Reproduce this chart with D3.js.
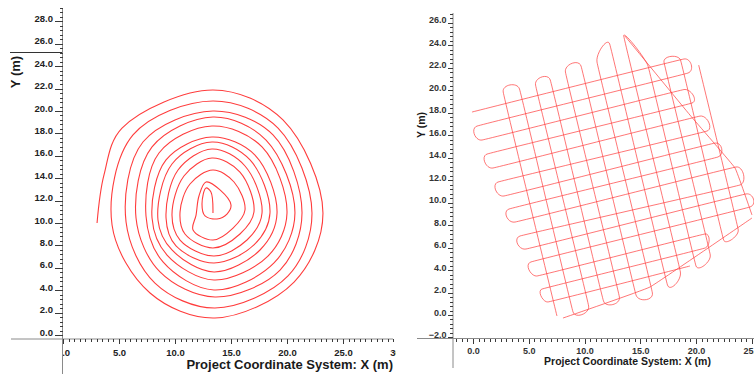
<!DOCTYPE html>
<html>
<head>
<meta charset="utf-8">
<script src="https://cdn.jsdelivr.net/npm/d3@7"></script>
<style>
  body { margin: 0; background: #fff; }
  svg { display: block; }
  text { font-family: "Liberation Sans", Arial, sans-serif; font-weight: bold; }
</style>
</head>
<body>
<svg id="chart" width="754" height="377"></svg>
<script>
// ---- left panel: spiral track (X, Y in metres) ----
const spiralTrack = [
  [3.04, 10.0], [3.66, 14.29], [5.27, 18.48], [13.39, 21.88], [19.64, 19.2], [23.21, 10.89], [20.63, 4.73], [13.57, 1.52], [7.77, 3.75],
  [4.38, 9.82], [6.25, 17.86], [13.39, 20.89], [19.2, 18.48], [22.23, 10.89], [20.09, 5.27], [13.57, 2.41], [8.21, 4.64],
  [5.63, 10.09], [7.14, 17.23], [13.39, 20.0], [18.75, 17.86], [21.34, 10.89], [19.38, 5.8], [13.57, 3.39], [8.66, 5.63],
  [6.52, 10.45], [7.95, 16.79], [13.39, 19.46], [18.13, 17.41], [20.71, 10.89], [18.84, 6.43], [13.48, 4.02], [8.93, 6.52],
  [7.41, 10.63], [8.57, 16.25], [13.3, 18.66], [17.77, 16.79], [20.0, 10.89], [18.3, 7.05], [13.48, 4.91], [9.29, 7.14],
  [7.95, 10.45], [9.2, 15.63], [13.3, 17.68], [17.14, 16.07], [19.11, 10.89], [17.59, 7.59], [13.48, 5.63], [9.73, 7.59],
  [8.48, 10.27], [9.73, 15.27], [13.3, 17.23], [16.7, 15.63], [18.48, 10.89], [17.05, 8.04], [13.48, 6.43], [10.09, 7.95],
  [9.2, 10.45], [10.27, 14.73], [13.3, 16.61], [16.25, 15.09], [17.77, 10.89], [16.43, 8.48], [13.48, 7.05], [10.45, 8.48],
  [9.73, 10.71], [10.8, 14.2], [13.3, 15.8], [15.8, 14.55], [17.05, 10.98], [15.8, 9.02], [13.39, 7.77], [10.89, 9.02],
  [10.45, 10.98], [11.34, 13.48], [13.39, 14.73], [15.27, 13.66], [16.25, 11.16], [15.18, 9.55], [13.39, 8.48], [11.61, 9.38],
  [11.88, 10.71], [12.14, 12.41], [12.77, 13.66], [14.02, 12.95], [15.0, 11.61], [14.64, 10.8], [13.75, 10.36], [12.68, 10.63],
  [12.41, 11.7], [12.77, 13.13], [13.21, 12.77], [13.39, 10.89]
];

// ---- right panel: lawn-mower grid track ----
// rows: [xLeft, yLeft, xRight, yRight]
const gridRows = [
  [-0.09, 18.06, 18.92, 22.78],
  [0.36, 16.81, 19.28, 21.53],
  [0.81, 15.57, 18.92, 20.06],
  [1.26, 14.32, 19.64, 18.86],
  [1.79, 13.08, 20.36, 17.7],
  [2.24, 11.83, 20.99, 16.37],
  [2.78, 10.59, 21.7, 15.3],
  [3.23, 9.43, 21.97, 14.06],
  [3.77, 8.27, 23.59, 13.17],
  [4.22, 7.03, 23.95, 11.57],
  [4.75, 5.87, 24.48, 10.77],
  [5.2, 4.72, 24.84, 9.61],
  [5.74, 3.47, 20.81, 7.21],
  [6.19, 2.31, 20.81, 5.96],
  [6.73, 1.16, 19.46, 4.36]
];
// columns: [xTop, yTop, xBottom, yBottom]
const gridCols = [
  [2.71, 19.84, 7.53, -0.09],
  [4.17, 20.11, 8.97, 0.27],
  [5.61, 20.46, 10.37, 0.8],
  [6.93, 20.91, 11.7, 1.25],
  [8.29, 21.62, 13.13, 1.6],
  [9.69, 22.15, 14.62, 1.78],
  [11.12, 22.51, 16.09, 1.96],
  [12.26, 24.11, 17.44, 2.67],
  [13.52, 24.82, 18.6, 3.83],
  [15.7, 22.15, 20.0, 4.36],
  [17.13, 22.51, 21.28, 5.34],
  [18.61, 22.69, 22.48, 6.67],
  [20.24, 22.24, 23.79, 7.56]
];
// odd legs of the track
const gridExtra = [
  [[13.63, 24.82], [19.46, 17.79], [23.5, 13.08], [25.02, 8.9]],
  [[8.07, -0.27], [15.87, 2.49], [25.02, 8.63]]
];

// tick labels
const leftXLabels = [0, 5, 10, 15, 20, 25, 30];
const leftYLabels = [0, 2, 4, 6, 8, 10, 12, 14, 16, 18, 20, 22, 24, 26, 28];
const rightXLabels = [0, 5, 10, 15, 20, 25];
const rightYLabels = [-2, 0, 2, 4, 6, 8, 10, 12, 14, 16, 18, 20, 22, 24, 26];
const xTitle = "Project Coordinate System: X (m)";
const yTitle = "Y (m)";

const svg = d3.select("#chart");
const fmt = d3.format(".1f");
const trackColor = "#ff3c3c";

// scales
const xL = d3.scaleLinear().domain([0, 30]).range([63, 399]);
const yL = d3.scaleLinear().domain([0, 28]).range([335, 21.4]);
const xR = d3.scaleLinear().domain([0, 20]).range([473, 696]);
const yR = d3.scaleLinear().domain([0, 26]).range([315, 22.8]);

svg.append("clipPath").attr("id", "clipL")
  .append("rect").attr("x", 63).attr("y", 0).attr("width", 333).attr("height", 377);

function drawAxes(o) {
  const g = svg.append("g");
  // axis lines
  g.append("line").attr("x1", o.yAxisX).attr("x2", o.yAxisX).attr("y1", o.yTop).attr("y2", o.yBottom)
    .attr("stroke", "#8a8a8a");
  g.append("line").attr("x1", o.xLeft).attr("x2", o.xRight).attr("y1", o.xAxisY).attr("y2", o.xAxisY)
    .attr("stroke", "#8a8a8a");

  // minor ticks
  g.append("g").attr("transform", `translate(${o.yAxisX},0)`)
    .call(d3.axisLeft(o.y).tickValues(o.yMinor).tickSize(3).tickFormat(""));
  g.append("g").attr("transform", `translate(0,${o.xAxisY})`)
    .call(d3.axisBottom(o.x).tickValues(o.xMinor).tickSize(3).tickFormat(""));

  // major ticks + labels
  const ya = g.append("g").attr("transform", `translate(${o.yAxisX},0)`)
    .call(d3.axisLeft(o.y).tickValues(o.yLabels).tickSize(o.yMajor).tickPadding(1.5).tickFormat(fmt));
  ya.selectAll("text").attr("dy", "0").style("font-size", o.tickFont);
  const xa = g.append("g").attr("transform", `translate(0,${o.xAxisY})`)
    .attr("clip-path", o.clip || null)
    .call(d3.axisBottom(o.x).tickValues(o.xLabels).tickSize(5).tickPadding(o.xPad).tickFormat(fmt));
  xa.selectAll("text").style("font-size", o.tickFont);

  g.selectAll(".domain").remove();
  g.selectAll(".tick line").attr("stroke", "#3a3a3a").attr("shape-rendering", "crispEdges");
  g.selectAll(".tick text").attr("fill", o.textColor).attr("font-family", null);

  // titles
  g.append("text").attr("x", o.xTitleX).attr("y", o.xTitleY).attr("text-anchor", o.xTitleAnchor)
    .style("font-size", o.titleFont).attr("fill", "#1a1a1a").text(xTitle);
  g.append("text").attr("transform", `translate(${o.yTitleX},${o.yTitleY}) rotate(-90)`)
    .attr("text-anchor", "middle").style("font-size", o.titleFont).attr("fill", "#1a1a1a").text(yTitle);
}

drawAxes({
  x: xL, y: yL, yAxisX: 62.5, xAxisY: 339, yTop: 8, yBottom: 374, xLeft: 11, xRight: 393,
  yMinor: d3.range(0, 29.3, 0.4), xMinor: d3.range(0, 29.6, 0.5),
  yLabels: leftYLabels, xLabels: leftXLabels, yMajor: 8, xPad: 5, clip: "url(#clipL)",
  tickFont: "9.5px", textColor: "#222", titleFont: "13px",
  xTitleX: 393, xTitleY: 369, xTitleAnchor: "end", yTitleX: 20, yTitleY: 72
});
drawAxes({
  x: xR, y: yR, yAxisX: 453, xAxisY: 338.5, yTop: 13, yBottom: 368, xLeft: 417, xRight: 754,
  yMinor: d3.range(-2, 26.9, 0.4), xMinor: d3.range(-1.5, 25.6, 0.5),
  yLabels: rightYLabels, xLabels: rightXLabels, yMajor: 5, xPad: 4,
  tickFont: "9px", textColor: "#333", titleFont: "10.5px",
  xTitleX: 627.5, xTitleY: 365, xTitleAnchor: "middle", yTitleX: 425, yTitleY: 125
});

// stray frame line left of the left Y title
svg.append("line").attr("x1", 10).attr("x2", 62).attr("y1", 52.5).attr("y2", 52.5)
  .attr("stroke", "#333");

// left track
const lineL = d3.line().x(d => xL(d[0])).y(d => yL(d[1])).curve(d3.curveCatmullRom.alpha(0.5));
svg.append("path").attr("d", lineL(spiralTrack))
  .attr("fill", "none").attr("stroke", trackColor).attr("stroke-width", 1.1);

// right track: rows swept back and forth, then columns
// a tight cardinal curve keeps the turns short and boxy
const lineR = d3.line().x(d => xR(d[0])).y(d => yR(d[1])).curve(d3.curveCardinal.tension(0.8));
const rowPts = [];
gridRows.forEach((r, i) => {
  const a = [r[0], r[1]], b = [r[2], r[3]];
  if (i % 2 === 0) rowPts.push(a, b); else rowPts.push(b, a);
});
const colPts = [];
gridCols.forEach((c, i) => {
  const t = [c[0], c[1]], b = [c[2], c[3]];
  if (i % 2 === 0) colPts.push(b, t); else colPts.push(t, b);
});
const gR = svg.append("g").attr("fill", "none").attr("stroke", trackColor)
  .attr("stroke-width", 1).attr("stroke-opacity", 0.7);
gR.append("path").attr("d", lineR(rowPts));
gR.append("path").attr("d", lineR(colPts));
gridExtra.forEach(seg => gR.append("path").attr("d", lineR(seg)));
</script>
</body>
</html>
